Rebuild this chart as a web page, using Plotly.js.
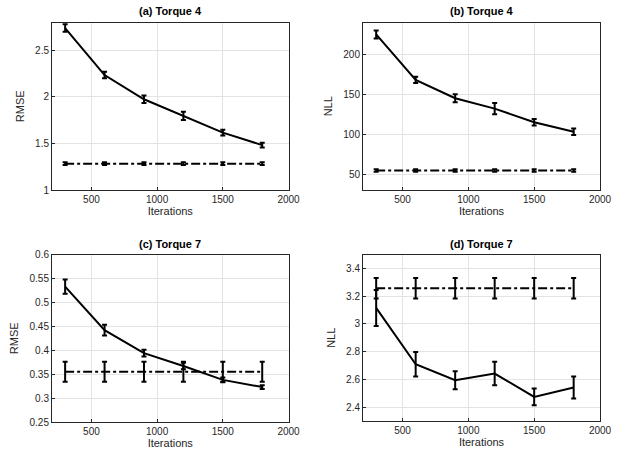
<!DOCTYPE html>
<html>
<head>
<meta charset="utf-8">
<script src="https://cdn.plot.ly/plotly-3.0.1.min.js"></script>
<style>html,body{margin:0;padding:0;background:#fff;}#chart{width:617px;height:450px;}</style>
</head>
<body>
<div id="chart"></div>
<script>
const iterations = [300, 600, 900, 1200, 1500, 1800];

const rmse4 = [2.74, 2.235, 1.975, 1.797, 1.617, 1.482];
const rmse4Err = [0.04, 0.035, 0.04, 0.045, 0.03, 0.025];
const rmse4Base = [1.283, 1.283, 1.283, 1.283, 1.283, 1.283];
const rmse4BaseErr = [0.015, 0.015, 0.015, 0.015, 0.015, 0.015];

const nll4 = [225, 168, 145, 132, 115, 103];
const nll4Err = [5, 4, 5, 7, 4, 4];
const nll4Base = [54.5, 54.5, 54.5, 54.5, 54.5, 54.5];
const nll4BaseErr = [1.5, 1.5, 1.5, 1.5, 1.5, 1.5];

const rmse7 = [0.533, 0.442, 0.394, 0.367, 0.338, 0.323];
const rmse7Err = [0.015, 0.011, 0.007, 0.007, 0.005, 0.004];
const rmse7Base = [0.355, 0.355, 0.355, 0.355, 0.355, 0.355];
const rmse7BaseErr = [0.021, 0.021, 0.021, 0.021, 0.021, 0.021];

const nll7 = [3.115, 2.709, 2.594, 2.642, 2.474, 2.541];
const nll7Err = [0.13, 0.088, 0.065, 0.085, 0.06, 0.079];
const nll7Base = [3.257, 3.257, 3.257, 3.257, 3.257, 3.257];
const nll7BaseErr = [0.074, 0.074, 0.074, 0.074, 0.074, 0.074];

const titles = ['(a) Torque 4', '(b) Torque 4', '(c) Torque 7', '(d) Torque 7'];
const yLabels = ['RMSE', 'NLL', 'RMSE', 'NLL'];
const xLabel = 'Iterations';

function series(y, err, dash, ax) {
  return {
    x: iterations, y: y, type: 'scatter', mode: 'lines',
    xaxis: 'x' + ax, yaxis: 'y' + ax,
    line: {color: '#000', width: 2, dash: dash},
    error_y: {type: 'data', array: err, visible: true, color: '#000', thickness: 2, width: 2.5},
    showlegend: false, hoverinfo: 'skip'
  };
}

const data = [
  series(rmse4, rmse4Err, 'solid', ''),
  series(rmse4Base, rmse4BaseErr, 'dashdot', ''),
  series(nll4, nll4Err, 'solid', '2'),
  series(nll4Base, nll4BaseErr, 'dashdot', '2'),
  series(rmse7, rmse7Err, 'solid', '3'),
  series(rmse7Base, rmse7BaseErr, 'dashdot', '3'),
  series(nll7, nll7Err, 'solid', '4'),
  series(nll7Base, nll7BaseErr, 'dashdot', '4')
];
data[0].xaxis = 'x'; data[0].yaxis = 'y';
data[1].xaxis = 'x'; data[1].yaxis = 'y';

const W = 617, H = 450;
const boxes = [
  {l: 52, r: 288.5, t: 22.5, b: 190},
  {l: 363, r: 600, t: 22.5, b: 190},
  {l: 52, r: 288.5, t: 254.5, b: 422},
  {l: 363, r: 600, t: 254.5, b: 421}
];
const yRanges = [[1, 2.8], [30, 240], [0.25, 0.6], [2.3, 3.5]];
const yTicks = [
  [1, 1.5, 2, 2.5],
  [50, 100, 150, 200],
  [0.25, 0.3, 0.35, 0.4, 0.45, 0.5, 0.55, 0.6],
  [2.4, 2.6, 2.8, 3, 3.2, 3.4]
];
const xTicks = [500, 1000, 1500, 2000];

const tickFont = {family: 'Liberation Sans, Arial, sans-serif', size: 10, color: '#262626'};
const labelFont = {family: 'Liberation Sans, Arial, sans-serif', size: 11, color: '#262626'};

const layout = {
  width: W, height: H,
  margin: {l: 0, r: 0, t: 0, b: 0},
  paper_bgcolor: '#fff', plot_bgcolor: '#fff',
  showlegend: false,
  annotations: []
};

boxes.forEach((bx, i) => {
  const sfx = i === 0 ? '' : String(i + 1);
  const common = {
    showline: true, mirror: true, linecolor: '#262626', linewidth: 1,
    ticks: 'inside', ticklen: 3, tickcolor: '#262626',
    showgrid: true, gridcolor: '#e3e3e3', gridwidth: 1,
    zeroline: false, tickfont: tickFont, fixedrange: true
  };
  layout['xaxis' + sfx] = Object.assign({}, common, {
    domain: [bx.l / W, bx.r / W],
    anchor: 'y' + sfx,
    range: [200, 2000],
    tickmode: 'array', tickvals: xTicks, ticktext: xTicks.map(String),
    title: {text: xLabel, font: labelFont, standoff: 3}
  });
  layout['yaxis' + sfx] = Object.assign({}, common, {
    domain: [1 - bx.b / H, 1 - bx.t / H],
    anchor: 'x' + sfx,
    range: yRanges[i],
    tickmode: 'array', tickvals: yTicks[i], ticktext: yTicks[i].map(String),
    title: {text: yLabels[i], font: labelFont, standoff: 8}
  });
  layout.annotations.push({
    text: '<b>' + titles[i] + '</b>',
    xref: 'paper', yref: 'paper',
    x: (bx.l + bx.r) / 2 / W, y: 1 - (bx.t - 3) / H,
    xanchor: 'center', yanchor: 'bottom', showarrow: false,
    font: {family: 'Liberation Sans, Arial, sans-serif', size: 11, color: '#000'}
  });
});

Plotly.newPlot('chart', data, layout, {staticPlot: true});
</script>
</body>
</html>
